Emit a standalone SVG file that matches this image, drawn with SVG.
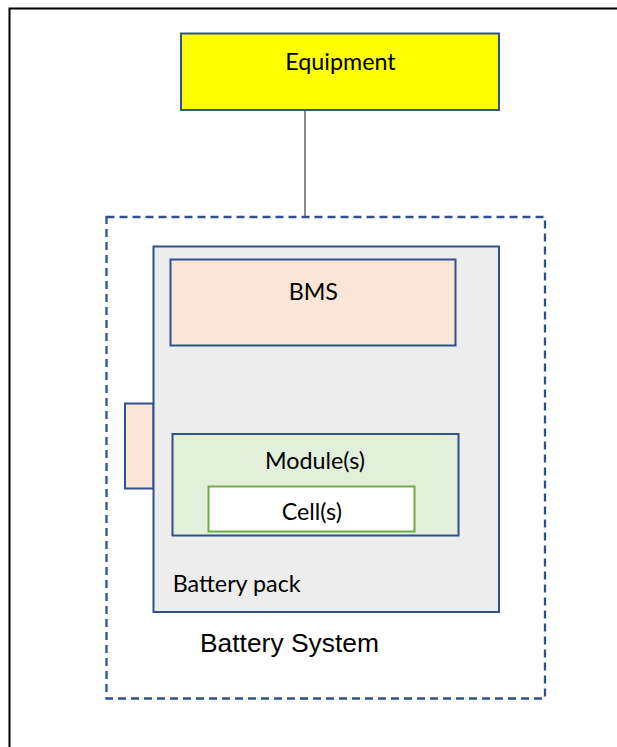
<svg xmlns="http://www.w3.org/2000/svg" width="617" height="747" viewBox="0 0 617 747">
  <style>
    .box { stroke: #2F528F; stroke-width: 2; }
    .lbl { font-family: Lato, "Open Sans", sans-serif; font-size: 23.3px; fill: #000; }
    .sys { font-family: "Liberation Sans", Arial, sans-serif; font-size: 26.4px; fill: #000; }
  </style>
  <rect width="617" height="747" fill="#FFFFFF"/>
  <rect id="frame" x="9.5" y="8.5" width="620" height="750" fill="none" stroke="#000" stroke-width="2"/>

  <g id="connectors">
    <line x1="305" y1="110" x2="305" y2="217" stroke="#666666" stroke-width="1.5"/>
    <line x1="322.3" y1="345" x2="322.3" y2="434" stroke="#222222" stroke-width="1.5"/>
  </g>

  <g id="battery-system">
    <rect x="106.5" y="217" width="438.5" height="481.5" fill="none" stroke="#2F528F" stroke-width="2.3" stroke-dasharray="8,5"/>
    <text class="sys" x="200" y="651.5">Battery System</text>
  </g>

  <g id="equipment">
    <rect class="box" x="181" y="33.5" width="318" height="76.5" fill="#FFFF00" stroke="#41659C"/>
    <text class="lbl" x="340.5" y="69.5" text-anchor="middle">Equipment</text>
  </g>

  <g id="side-connector">
    <rect class="box" x="125" y="403.5" width="28.5" height="85" fill="#FBE5D6"/>
  </g>

  <g id="battery-pack">
    <rect class="box" x="153.5" y="246.5" width="345.5" height="365.5" fill="#EDEDED"/>
    <text class="lbl" x="172.7" y="591.7">Battery pack</text>
  </g>

  <g id="bms">
    <rect class="box" x="170.5" y="259.5" width="285" height="86" fill="#FBE5D6"/>
    <text class="lbl" x="313.3" y="299.5" text-anchor="middle">BMS</text>
  </g>

  <g id="modules">
    <rect class="box" x="172.5" y="434" width="286" height="101.5" fill="#E2EFDA"/>
    <text class="lbl" x="315" y="468.5" text-anchor="middle">Module(s)</text>
  </g>

  <g id="cells">
    <rect x="208.5" y="486.5" width="206" height="45" fill="#FFFFFF" stroke="#70AD47" stroke-width="2"/>
    <text class="lbl" x="311.8" y="520" text-anchor="middle">Cell(s)</text>
  </g>
</svg>
